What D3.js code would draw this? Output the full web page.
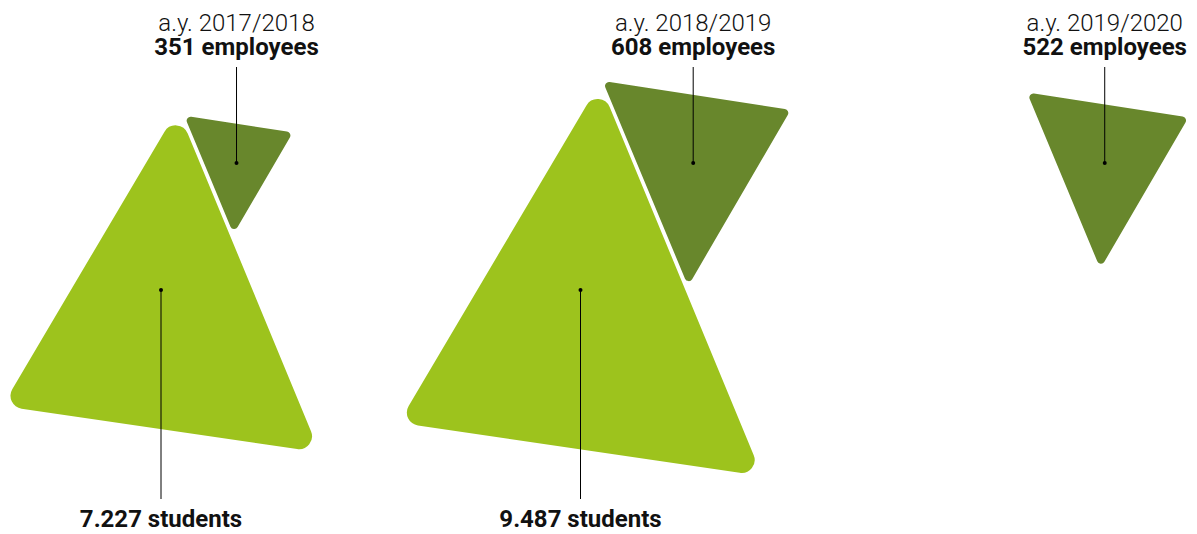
<!DOCTYPE html>
<html>
<head>
<meta charset="utf-8">
<script src="https://cdn.jsdelivr.net/npm/d3@7"></script>
<style>
  body { margin: 0; background: #fff; }
  text { font-family: Roboto, "Open Sans", sans-serif; fill: #111; }
</style>
</head>
<body>
<div id="chart"></div>
<script>
// Data
const years = ["2017/2018", "2018/2019", "2019/2020"];
const students = [7227, 9487, null];
const employees = [351, 608, 522];

const width = 1197, height = 534;

// Italian number format: 7.227
const it = d3.formatLocale({decimal: ",", thousands: ".", grouping: [3], currency: ["€", ""]});
const fmt = it.format(",");

const svg = d3.select("#chart").append("svg")
    .attr("width", width)
    .attr("height", height);

// Group positions
const x = d3.scalePoint().domain(years).range([161, 1000]);
const studY = 290, empY = 163;

// Triangle sizes
const studSize = d3.scaleSqrt().domain([0, d3.max(students)]).range([0, 1]);
const empSize = d3.scaleLinear().domain([0, d3.max(employees)]).range([0, 1]);

// Triangle outlines at the largest value, relative to the anchor dot
const studShape = [[19.2, -207], [181.9, 186.1], [-181.7, 132.7]];   // top, bottom-right, bottom-left
const empShape = [[-90.6, -82.1], [97.5, -53], [-5.1, 123.1]];      // top-left, top-right, bottom
const gap = 4;

function scaled(shape, k) {
    return shape.map(p => [p[0] * k, p[1] * k]);
}

// x where the edge a->b crosses height y
function edgeX(a, b, y) {
    const t = (y - a[1]) / (b[1] - a[1]);
    return a[0] + t * (b[0] - a[0]);
}

function roundedPath(pts, r) {
    const p = d3.path();
    const n = pts.length;
    const last = pts[n - 1];
    p.moveTo((last[0] + pts[0][0]) / 2, (last[1] + pts[0][1]) / 2);
    for (let i = 0; i < n; i++) {
        const c = pts[i], nx = pts[(i + 1) % n];
        p.arcTo(c[0], c[1], nx[0], nx[1], r);
    }
    p.closePath();
    return p.toString();
}

const data = years.map((y, i) => {
    const s = studSize(students[i] == null ? d3.max(students) : students[i]);
    const e = empSize(employees[i]);
    const st = scaled(studShape, s);
    const em = scaled(empShape, e);
    const sx = x(y);
    // put the employee triangle next to the right edge of the students one
    const ex = sx + edgeX(st[0], st[1], empY - studY) - edgeX(em[0], em[2], 0) + gap;
    return {year: y, students: students[i], employees: employees[i], sx, ex, st, em};
});

// Employees triangles
svg.selectAll("path.emp")
    .data(data)
    .join("path")
    .attr("class", "emp")
    .attr("transform", d => `translate(${d.ex},${empY})`)
    .attr("d", d => roundedPath(d.em, 4))
    .attr("fill", "#68872c");

// Students triangles
svg.selectAll("path.stud")
    .data(data.filter(d => d.students != null))
    .join("path")
    .attr("class", "stud")
    .attr("transform", d => `translate(${d.sx},${studY})`)
    .attr("d", d => roundedPath(d.st, 13))
    .attr("fill", "#9dc31d");

// Leader lines and dots
svg.selectAll("line.emp")
    .data(data)
    .join("line")
    .attr("class", "emp")
    .attr("x1", d => d.ex).attr("x2", d => d.ex)
    .attr("y1", 67).attr("y2", empY)
    .attr("stroke", "#000").attr("stroke-width", 1);

svg.selectAll("circle.emp")
    .data(data)
    .join("circle")
    .attr("class", "emp")
    .attr("cx", d => d.ex).attr("cy", empY).attr("r", 2)
    .attr("fill", "#000");

const studData = data.filter(d => d.students != null);

svg.selectAll("line.stud")
    .data(studData)
    .join("line")
    .attr("class", "stud")
    .attr("x1", d => d.sx).attr("x2", d => d.sx)
    .attr("y1", studY).attr("y2", 499)
    .attr("stroke", "#000").attr("stroke-width", 1);

svg.selectAll("circle.stud")
    .data(studData)
    .join("circle")
    .attr("class", "stud")
    .attr("cx", d => d.sx).attr("cy", studY).attr("r", 2)
    .attr("fill", "#000");

// Labels
svg.selectAll("text.year")
    .data(data)
    .join("text")
    .attr("class", "year")
    .attr("x", d => d.ex).attr("y", 31)
    .attr("text-anchor", "middle")
    .style("font-size", "24px")
    .style("font-weight", 300)
    .text(d => `a.y. ${d.year}`);

svg.selectAll("text.emp")
    .data(data)
    .join("text")
    .attr("class", "emp")
    .attr("x", d => d.ex).attr("y", 55)
    .attr("text-anchor", "middle")
    .style("font-size", "24px")
    .style("font-weight", 700)
    .text(d => `${fmt(d.employees)} employees`);

svg.selectAll("text.stud")
    .data(studData)
    .join("text")
    .attr("class", "stud")
    .attr("x", d => d.sx).attr("y", 527)
    .attr("text-anchor", "middle")
    .style("font-size", "24px")
    .style("font-weight", 700)
    .text(d => `${fmt(d.students)} students`);
</script>
</body>
</html>
